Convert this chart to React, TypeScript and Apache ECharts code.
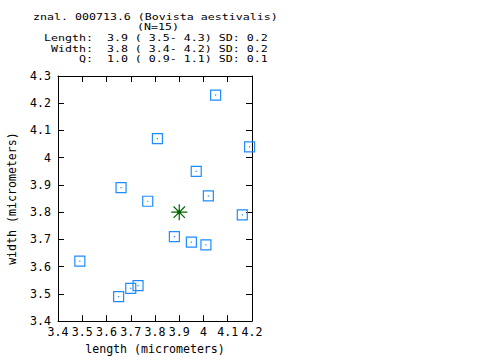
import React, { useEffect, useRef } from "react";
import * as echarts from "echarts";

const lengths = [4.05, 3.81, 4.19, 3.97, 3.66, 4.02, 3.77, 4.16, 3.88, 3.95, 4.01, 3.49, 3.65, 3.70, 3.73];
const widths = [4.23, 4.07, 4.04, 3.95, 3.89, 3.86, 3.84, 3.79, 3.71, 3.69, 3.68, 3.62, 3.49, 3.52, 3.53];
const meanPoint = [3.9, 3.8];
const titleLines = [
  "znal. 000713.6 (Bovista aestivalis)",
  "(N=15)",
  "Length:  3.9 ( 3.5- 4.3) SD: 0.2",
  " Width:  3.8 ( 3.4- 4.2) SD: 0.2",
  "     Q:  1.0 ( 0.9- 1.1) SD: 0.1",
];
const xName = "length (micrometers)";
const yName = "width (micrometers)";

const FONT = "DejaVu Sans Mono";
const FS = 11.6;
const TFS = 9.2;
const BLUE = "#1e8cff";
const GREEN = "#006400";

export default function App() {
  const ref = useRef<HTMLDivElement>(null);
  useEffect(() => {
    if (!ref.current) return;
    const chart = echarts.init(ref.current, null, { renderer: "svg" });
    const pts = lengths.map((l, i) => [l, widths[i]]);
    const fmt = (v: number) => String(+v.toFixed(1));
    const tickStyle = { show: true, inside: true, length: 6, lineStyle: { color: "#000", width: 1 } };
    const lineStyle = { show: true, onZero: false, lineStyle: { color: "#000", width: 1 } };
    const labelStyle = { color: "#000", fontFamily: FONT, fontSize: FS };
    const titleX = [33, 137, 44, 44, 44];
    const titleY = [16, 26.7, 37.4, 48.1, 58.8];
    const sx = 7 / (0.602 * TFS);
    chart.setOption({
      animation: false,
      grid: { left: 58, right: 228, top: 76, bottom: 34, containLabel: false },
      graphic: titleLines.map((t, i) => ({
        type: "text",
        x: titleX[i],
        y: titleY[i],
        scaleX: sx,
        style: {
          text: t, font: `${TFS}px "${FONT}"`, fill: "#000",
          align: "left", verticalAlign: "middle",
        },
      })),
      xAxis: [
        {
          type: "value", min: 3.4, max: 4.2, interval: 0.1, position: "bottom",
          axisLine: lineStyle, axisTick: tickStyle, splitLine: { show: false },
          axisLabel: { ...labelStyle, margin: 5, formatter: fmt },
          name: xName, nameLocation: "middle", nameGap: 21,
          nameTextStyle: { ...labelStyle },
        },
        {
          type: "value", min: 3.4, max: 4.2, interval: 0.1, position: "top",
          axisLine: lineStyle, axisTick: tickStyle, splitLine: { show: false },
          axisLabel: { show: false },
        },
      ],
      yAxis: [
        {
          type: "value", min: 3.4, max: 4.3, interval: 0.1, position: "left",
          axisLine: lineStyle, axisTick: tickStyle, splitLine: { show: false },
          axisLabel: { ...labelStyle, margin: 7, formatter: fmt },
          name: yName, nameLocation: "middle", nameGap: 40,
          nameTextStyle: { ...labelStyle },
        },
        {
          type: "value", min: 3.4, max: 4.3, interval: 0.1, position: "right",
          axisLine: lineStyle, axisTick: tickStyle, splitLine: { show: false },
          axisLabel: { show: false },
        },
      ],
      series: [
        {
          type: "scatter", data: pts, symbol: "rect", symbolSize: 10,
          itemStyle: { color: "rgba(0,0,0,0)", borderColor: BLUE, borderWidth: 1.2, opacity: 1 },
          emphasis: { disabled: true }, silent: true,
        },
        {
          type: "scatter", data: pts, symbol: "rect", symbolSize: 1.2,
          itemStyle: { color: BLUE, opacity: 1 }, silent: true,
        },
        {
          type: "scatter", data: [meanPoint], symbol: "path://M0,8H16M8,0V16M2.3,2.3L13.7,13.7M13.7,2.3L2.3,13.7",
          symbolSize: 16,
          itemStyle: { color: "rgba(0,0,0,0)", borderColor: GREEN, borderWidth: 1.2, opacity: 1 }, silent: true,
        },
        {
          type: "scatter", data: [meanPoint], symbol: "circle", symbolSize: 4,
          itemStyle: { color: GREEN, opacity: 1 }, silent: true,
        },
      ],
    });
    return () => chart.dispose();
  }, []);
  return <div ref={ref} style={{ width: 480, height: 360, position: "absolute", left: 0, top: 0 }} />;
}
